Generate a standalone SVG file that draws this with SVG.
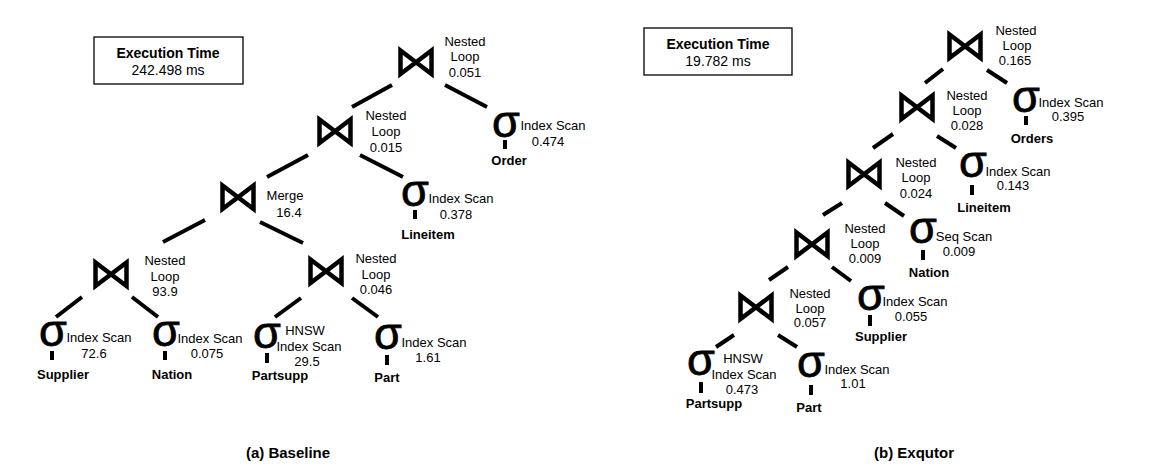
<svg xmlns="http://www.w3.org/2000/svg" xmlns:xlink="http://www.w3.org/1999/xlink" width="1156" height="475" viewBox="0 0 1156 475">
<style>
text{font-family:"Liberation Sans",Arial,sans-serif;fill:#000}
.t{font-size:13px;text-anchor:middle}
.b{font-size:13px;font-weight:bold;text-anchor:middle}
.s{font-size:45px;stroke:#000;stroke-width:0.8}
.h{font-size:14px;text-anchor:middle}
.hb{font-size:14px;font-weight:bold;text-anchor:middle}
.cap{font-size:15px;font-weight:bold;text-anchor:middle}
.e line{stroke:#000;stroke-width:4}
.bar{fill:#000}
.box{fill:#fff;stroke:#000;stroke-width:1.3}
</style>
<defs>
<path id="bt" d="M2.5,2.5 L2.5,26 L33.5,2.5 L33.5,26 Z" fill="none" stroke="#000" stroke-width="4.5" stroke-linejoin="miter"/>
</defs>
<rect width="1156" height="475" fill="#fff"/>

<!-- (a) Baseline -->
<g id="a-exec">
<rect class="box" x="94" y="37" width="149" height="47"/>
<text class="hb" x="168" y="58">Execution Time</text>
<text class="h" x="168" y="75">242.498 ms</text>
</g>

<g class="e" id="a-edges">
<line x1="392" y1="85" x2="352" y2="107"/>
<line x1="445" y1="85" x2="487" y2="107"/>
<line x1="308" y1="155" x2="267" y2="177"/>
<line x1="360" y1="155" x2="403" y2="177"/>
<line x1="205" y1="220" x2="163" y2="242"/>
<line x1="260" y1="222" x2="303" y2="243"/>
<line x1="82" y1="297" x2="56" y2="317"/>
<line x1="132" y1="297" x2="158" y2="317"/>
<line x1="301" y1="298" x2="275" y2="317"/>
<line x1="352" y1="298" x2="378" y2="317"/>
</g>

<g id="a-j1"><use xlink:href="#bt" x="398" y="48"/>
<text class="t" x="465" y="46">Nested</text><text class="t" x="465" y="61">Loop</text><text class="t" x="465" y="77">0.051</text></g>
<g id="a-j2"><use xlink:href="#bt" x="317" y="117"/>
<text class="t" x="386" y="120">Nested</text><text class="t" x="386" y="136">Loop</text><text class="t" x="386" y="152">0.015</text></g>
<g id="a-j3"><use xlink:href="#bt" x="220" y="183"/>
<text class="t" x="285" y="200">Merge</text><text class="t" x="289" y="217">16.4</text></g>
<g id="a-j4"><use xlink:href="#bt" x="93" y="260"/>
<text class="t" x="165" y="265">Nested</text><text class="t" x="165" y="281">Loop</text><text class="t" x="165" y="296">93.9</text></g>
<g id="a-j5"><use xlink:href="#bt" x="308" y="257"/>
<text class="t" x="376" y="263">Nested</text><text class="t" x="376" y="279">Loop</text><text class="t" x="376" y="294">0.046</text></g>

<g id="a-order"><text class="s" x="492" y="137">σ</text><rect class="bar" x="503" y="140" width="4" height="9"/>
<text class="t" x="553" y="130">Index Scan</text><text class="t" x="548" y="146">0.474</text><text class="b" x="509" y="165">Order</text></g>
<g id="a-lineitem"><text class="s" x="401" y="206">σ</text><rect class="bar" x="413" y="210" width="4" height="9"/>
<text class="t" x="461" y="203">Index Scan</text><text class="t" x="456" y="219">0.378</text><text class="b" x="428" y="239">Lineitem</text></g>
<g id="a-supplier"><text class="s" x="39" y="346">σ</text><rect class="bar" x="50" y="351" width="4" height="9"/>
<text class="t" x="99" y="342">Index Scan</text><text class="t" x="94" y="358">72.6</text><text class="b" x="63" y="379">Supplier</text></g>
<g id="a-nation"><text class="s" x="152" y="346">σ</text><rect class="bar" x="163" y="351" width="4" height="9"/>
<text class="t" x="210" y="343">Index Scan</text><text class="t" x="207" y="358">0.075</text><text class="b" x="172" y="379">Nation</text></g>
<g id="a-partsupp"><text class="s" x="253" y="348">σ</text><rect class="bar" x="265" y="353" width="4" height="10"/>
<text class="t" x="305" y="335">HNSW</text><text class="t" x="309" y="351">Index Scan</text><text class="t" x="307" y="366">29.5</text><text class="b" x="280" y="380">Partsupp</text></g>
<g id="a-part"><text class="s" x="374" y="349">σ</text><rect class="bar" x="385" y="355" width="4" height="10"/>
<text class="t" x="434" y="347">Index Scan</text><text class="t" x="428" y="362">1.61</text><text class="b" x="387" y="382">Part</text></g>

<text class="cap" x="288" y="458">(a) Baseline</text>

<!-- (b) Exqutor -->
<g id="b-exec">
<rect class="box" x="644" y="28" width="148" height="47"/>
<text class="hb" x="718" y="49">Execution Time</text>
<text class="h" x="718" y="66">19.782 ms</text>
</g>

<g class="e" id="b-edges">
<line x1="943" y1="69" x2="925" y2="83"/>
<line x1="987" y1="70" x2="1007" y2="83"/>
<line x1="893" y1="134" x2="873" y2="148"/>
<line x1="937" y1="136" x2="956" y2="148"/>
<line x1="842" y1="203" x2="823" y2="215"/>
<line x1="885" y1="203" x2="904" y2="216"/>
<line x1="788" y1="267" x2="769" y2="280"/>
<line x1="832" y1="267" x2="851" y2="281"/>
<line x1="734" y1="335" x2="716" y2="347"/>
<line x1="778" y1="335" x2="797" y2="347"/>
</g>

<g id="b-j1"><use xlink:href="#bt" x="947" y="32"/>
<text class="t" x="1016" y="35">Nested</text><text class="t" x="1017" y="50">Loop</text><text class="t" x="1015" y="65">0.165</text></g>
<g id="b-j2"><use xlink:href="#bt" x="899" y="93"/>
<text class="t" x="967" y="100">Nested</text><text class="t" x="967" y="115">Loop</text><text class="t" x="967" y="130">0.028</text></g>
<g id="b-j3"><use xlink:href="#bt" x="846" y="160"/>
<text class="t" x="916" y="167">Nested</text><text class="t" x="916" y="182">Loop</text><text class="t" x="916" y="198">0.024</text></g>
<g id="b-j4"><use xlink:href="#bt" x="794" y="230"/>
<text class="t" x="865" y="233">Nested</text><text class="t" x="865" y="248">Loop</text><text class="t" x="865" y="263">0.009</text></g>
<g id="b-j5"><use xlink:href="#bt" x="738" y="293"/>
<text class="t" x="810" y="298">Nested</text><text class="t" x="810" y="313">Loop</text><text class="t" x="810" y="327">0.057</text></g>

<g id="b-orders"><text class="s" x="1012" y="112">σ</text><rect class="bar" x="1024" y="116" width="4" height="9"/>
<text class="t" x="1071" y="107">Index Scan</text><text class="t" x="1068" y="121">0.395</text><text class="b" x="1032" y="143">Orders</text></g>
<g id="b-lineitem"><text class="s" x="959" y="177">σ</text><rect class="bar" x="970" y="185" width="4" height="10"/>
<text class="t" x="1018" y="176">Index Scan</text><text class="t" x="1013" y="190">0.143</text><text class="b" x="984" y="212">Lineitem</text></g>
<g id="b-nation"><text class="s" x="909" y="243">σ</text><rect class="bar" x="921" y="250" width="4" height="10"/>
<text class="t" x="964" y="241">Seq Scan</text><text class="t" x="959" y="256">0.009</text><text class="b" x="929" y="277">Nation</text></g>
<g id="b-supplier"><text class="s" x="857" y="310">σ</text><rect class="bar" x="868" y="315" width="4" height="11"/>
<text class="t" x="915" y="306">Index Scan</text><text class="t" x="911" y="321">0.055</text><text class="b" x="881" y="341">Supplier</text></g>
<g id="b-partsupp"><text class="s" x="687" y="375">σ</text><rect class="bar" x="699" y="382" width="4" height="11"/>
<text class="t" x="743" y="363">HNSW</text><text class="t" x="744" y="379">Index Scan</text><text class="t" x="742" y="394">0.473</text><text class="b" x="714" y="408">Partsupp</text></g>
<g id="b-part"><text class="s" x="797" y="377">σ</text><rect class="bar" x="809" y="385" width="4" height="10"/>
<text class="t" x="857" y="374">Index Scan</text><text class="t" x="853" y="388">1.01</text><text class="b" x="809" y="412">Part</text></g>

<text class="cap" x="914" y="458">(b) Exqutor</text>
</svg>
